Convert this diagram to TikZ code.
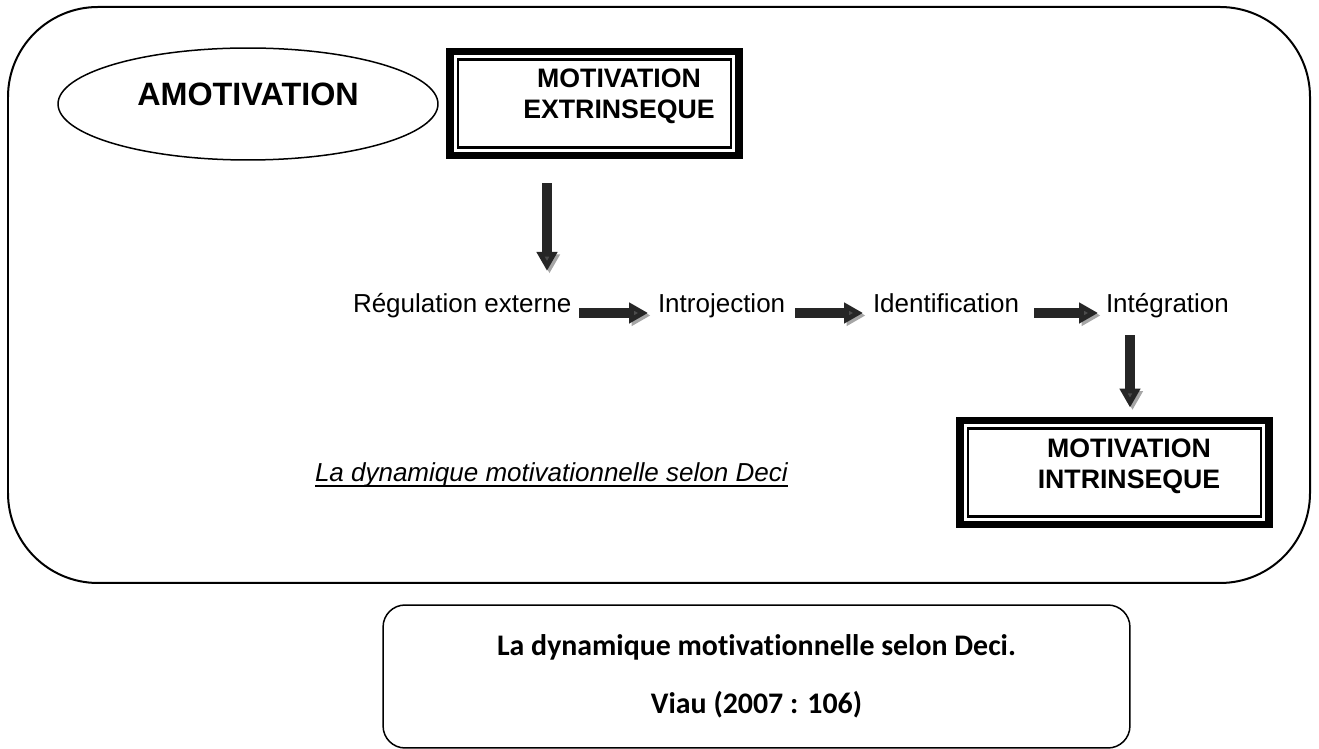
\documentclass[tikz,border=0pt]{standalone}
\usepackage{fontspec}
\setmainfont{Liberation Sans}
\newfontfamily\calibri[Ligatures=NoCommon]{Carlito}
\usetikzlibrary{shapes.geometric,arrows.meta}
\newcommand\lowrule[1]{\setbox0\hbox{#1}\rlap{\rule[-2.8pt]{\wd0}{0.9pt}}\box0}

\begin{document}
\begin{tikzpicture}[x=0.02cm, y=-0.02cm,
    every node/.style={inner sep=0pt, outer sep=0pt},
    stage/.style={anchor=base west, font=\fontsize{14.8}{17}\selectfont},
    heading/.style={align=center, font=\bfseries\fontsize{15.2}{17.6}\selectfont},
    thinframe/.style={draw, line width=0.05cm, minimum height=1.76cm},
    thickframe/.style={line width=0.15cm},
    flow/.style={line width=0.2cm, black!85, -{Triangle[length=0.38cm, width=0.4cm, fill=black!70]},
      preaction={draw=black!35, transform canvas={xshift=0.05cm, yshift=-0.05cm}}}]
      \useasboundingbox (0,0) rectangle (1319,749);
      \draw[line width=0.04cm, rounded corners=1.8cm] (8,7) rectangle (1310,583);
      \node[ellipse, draw, line width=0.03cm, minimum width=7.6cm, minimum height=2.24cm,
        text height=13.2pt, text depth=12pt,
        font=\bfseries\fontsize{18.4}{20}\selectfont] (amot) at (248,104) {AMOTIVATION};
      \node[thinframe, minimum width=5.46cm] (ext) at (594.5,103.5) {};
      \node[heading] (exttxt) at (619,96) {MOTIVATION\\EXTRINSEQUE};
      \draw[thickframe] ([shift={(-8,-8)}]ext.north west) rectangle ([shift={(8,8)}]ext.south east);
      \node[thinframe, minimum width=5.86cm] (intr) at (1114.5,472.5) {};
      \node[heading] (intrtxt) at (1129,466) {MOTIVATION\\INTRINSEQUE};
      \draw[thickframe] ([shift={(-8,-8)}]intr.north west) rectangle ([shift={(8,8)}]intr.south east);
      \node[stage] (reg) at (353,313) {Régulation externe};
      \node[stage] (intro) at (658,313) {Introjection};
      \node[stage] (ident) at (873,313) {Identification};
      \node[stage] (integ) at (1106,313) {Intégration};
      \coordinate (gate) at (547,0);
      \coordinate (gatetwo) at (1130,0);
      \draw[flow, shorten <=0.72cm, shorten >=0.46cm] (ext.south -| gate) -- (reg.north -| gate);
      \draw[flow, shorten <=0.16cm, shorten >=0.2cm] (reg.base east) -- (intro.base west);
      \draw[flow, shorten <=0.2cm, shorten >=0.2cm] (intro.base east) -- (ident.base west);
      \draw[flow, shorten <=0.3cm, shorten >=0.16cm] (ident.base east) -- (integ.base west);
      \draw[flow, shorten <=0.34cm, shorten >=0.42cm] (integ.south -| gatetwo) -- (intr.north -| gatetwo);
      \node[stage, font=\itshape\fontsize{14.8}{17}\selectfont] (caption) at (315,482) {\lowrule{La dynamique motivationnelle selon Deci}};
      \node[draw, line width=0.03cm, rounded corners=0.44cm, minimum width=14.94cm, minimum height=2.86cm,
        align=center, font=\calibri\bfseries\fontsize{17}{33}\selectfont] (source) at (756.5,676.5)
        {La dynamique motivationnelle selon Deci.\\Viau (2007 : 106)};
    \end{tikzpicture}
\end{document}
